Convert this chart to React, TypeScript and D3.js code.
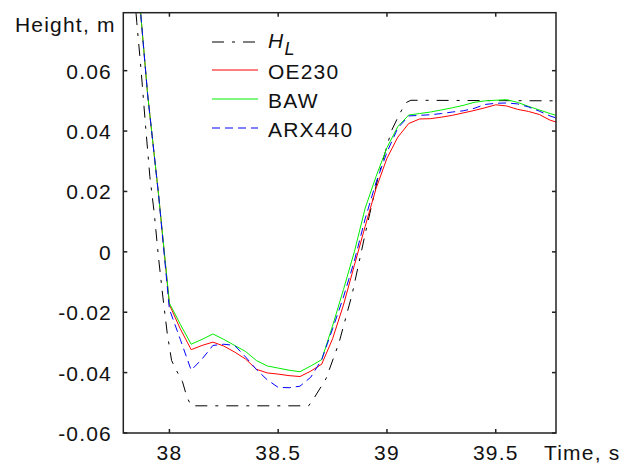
import React, { useEffect, useRef } from 'react';
import * as d3 from 'd3';

// time grid for the three model series (s)
const timeModel = [
  37.80, 37.85, 37.90, 37.95, 38.00, 38.05, 38.10, 38.15, 38.20, 38.25,
  38.30, 38.35, 38.40, 38.45, 38.50, 38.55, 38.60, 38.65, 38.70, 38.75,
  38.80, 38.85, 38.90, 38.95, 39.00, 39.05, 39.10, 39.15, 39.20, 39.25,
  39.30, 39.35, 39.40, 39.45, 39.50, 39.55, 39.60, 39.65, 39.70, 39.75, 39.80,
];

const oe230 = [
  0.130, 0.094, 0.052, 0.019, -0.0175, -0.0255, -0.0324, -0.031, -0.0299, -0.0312,
  -0.0332, -0.0355, -0.0389, -0.0401, -0.0405, -0.041, -0.0413, -0.0395, -0.0372, -0.0288,
  -0.0176, -0.0045, 0.0085, 0.021, 0.031, 0.038, 0.0425, 0.044, 0.0441, 0.0446,
  0.0452, 0.046, 0.0468, 0.0477, 0.0487, 0.0483, 0.0472, 0.0465, 0.0455, 0.0436, 0.0425,
];

const baw = [
  0.130, 0.094, 0.052, 0.019, -0.017, -0.024, -0.0306, -0.029, -0.0272, -0.029,
  -0.031, -0.033, -0.036, -0.0378, -0.0385, -0.0392, -0.0397, -0.0378, -0.0357, -0.0245,
  -0.0125, 0.0, 0.0145, 0.025, 0.0345, 0.0415, 0.0453, 0.0458, 0.0463, 0.047,
  0.0477, 0.0485, 0.0495, 0.050, 0.0502, 0.0504, 0.0495, 0.0482, 0.047, 0.0458, 0.0447,
];

const arx440 = [
  0.130, 0.094, 0.052, 0.019, -0.019, -0.029, -0.0392, -0.0355, -0.031, -0.0306,
  -0.031, -0.0348, -0.039, -0.0424, -0.0449, -0.045, -0.0445, -0.0415, -0.0357, -0.0255,
  -0.015, -0.003, 0.011, 0.023, 0.033, 0.041, 0.045, 0.0452, 0.0454, 0.0458,
  0.0463, 0.0467, 0.0475, 0.0488, 0.0492, 0.0493, 0.049, 0.048, 0.0466, 0.045, 0.0438,
];

// H_L reference (own time stamps)
const timeHL = [
  37.80, 37.85, 37.87, 37.89, 37.91, 37.93, 37.95, 37.97, 37.99, 38.01,
  38.03, 38.06, 38.08, 38.10, 38.64, 38.66, 38.72, 38.78, 38.84, 38.90,
  38.96, 39.02, 39.06, 39.09, 39.11, 39.80,
];
const heightHL = [
  0.120, 0.076, 0.060, 0.042, 0.025, 0.013, -0.002, -0.015, -0.027, -0.036,
  -0.039, -0.043, -0.048, -0.051, -0.051, -0.049, -0.042, -0.030, -0.014, 0.006,
  0.025, 0.040, 0.046, 0.0495, 0.0502, 0.050,
];

const xTicks = [38, 38.5, 39, 39.5];
const yTicks = [-0.06, -0.04, -0.02, 0, 0.02, 0.04, 0.06];

const series = [
  { name: 'OE230', values: oe230, color: '#ff0000', dash: null },
  { name: 'BAW', values: baw, color: '#00ee00', dash: null },
  { name: 'ARX440', values: arx440, color: '#0000ff', dash: '8,5' },
];

const App = () => {
  const svgRef = useRef(null);

  useEffect(() => {
    const svg = d3.select(svgRef.current);
    svg.selectAll('*').remove();

    const left = 123.3, right = 556, top = 12.7, bottom = 433;
    const font = 'Arial, "Liberation Sans", sans-serif';

    const x = d3.scaleLinear().domain([37.788, 39.777]).range([left, right]);
    const y = d3.scaleLinear().domain([-0.06, 0.0792]).range([bottom, top]);

    svg.append('defs').append('clipPath').attr('id', 'plotClip')
      .append('rect')
      .attr('x', left).attr('y', top)
      .attr('width', right - left).attr('height', bottom - top);

    const plot = svg.append('g').attr('clip-path', 'url(#plotClip)');

    const line = d3.line<[number, number]>()
      .x(d => x(d[0]))
      .y(d => y(d[1]));

    // H_L
    plot.append('path')
      .attr('d', line(timeHL.map((t, i) => [t, heightHL[i]])))
      .attr('fill', 'none')
      .attr('stroke', '#000')
      .attr('stroke-width', 1)
      .attr('stroke-dasharray', '12,8,3,8');

    series.forEach(s => {
      plot.append('path')
        .attr('d', line(timeModel.map((t, i) => [t, s.values[i]])))
        .attr('fill', 'none')
        .attr('stroke', s.color)
        .attr('stroke-width', 1)
        .attr('stroke-dasharray', s.dash);
    });

    // frame
    svg.append('rect')
      .attr('x', left).attr('y', top)
      .attr('width', right - left).attr('height', bottom - top)
      .attr('fill', 'none').attr('stroke', '#222').attr('stroke-width', 1.5);

    const tickLen = 4;
    const ticks = svg.append('g').attr('stroke', '#222').attr('stroke-width', 1.5);
    xTicks.forEach(t => {
      ticks.append('line').attr('x1', x(t)).attr('x2', x(t)).attr('y1', bottom).attr('y2', bottom - tickLen);
      ticks.append('line').attr('x1', x(t)).attr('x2', x(t)).attr('y1', top).attr('y2', top + tickLen);
    });
    yTicks.forEach(v => {
      ticks.append('line').attr('x1', left).attr('x2', left + tickLen).attr('y1', y(v)).attr('y2', y(v));
      ticks.append('line').attr('x1', right).attr('x2', right - tickLen).attr('y1', y(v)).attr('y2', y(v));
    });

    const text = svg.append('g')
      .style('font-family', font)
      .style('font-size', '21px')
      .style('letter-spacing', '1.2px')
      .attr('fill', '#111');

    xTicks.forEach(t => {
      text.append('text')
        .attr('x', x(t)).attr('y', 460)
        .attr('text-anchor', 'middle')
        .text(String(t));
    });
    yTicks.forEach(v => {
      text.append('text')
        .attr('x', 112).attr('y', y(v) + 8)
        .attr('text-anchor', 'end')
        .text(v === 0 ? '0' : String(+v.toFixed(2)));
    });

    text.append('text').attr('x', 15).attr('y', 32).text('Height, m');
    text.append('text').attr('x', 544).attr('y', 460).text('Time, s');

    // legend
    const lx1 = 212, lx2 = 258, tx = 268;
    const legendRows = [
      { y: 42, color: '#000', dash: '12,8,3,8' },
      { y: 70, color: series[0].color, dash: null },
      { y: 99, color: series[1].color, dash: null },
      { y: 128, color: series[2].color, dash: series[2].dash },
    ];
    legendRows.forEach(r => {
      svg.append('line')
        .attr('x1', lx1).attr('x2', lx2).attr('y1', r.y).attr('y2', r.y)
        .attr('stroke', r.color).attr('stroke-width', 1)
        .attr('stroke-dasharray', r.dash);
    });

    const hl = text.append('text').attr('x', tx).attr('y', 48);
    hl.append('tspan').style('font-style', 'italic').text('H');
    hl.append('tspan').style('font-style', 'italic').style('font-size', '18px')
      .attr('dy', 7).text('L');
    series.forEach((s, i) => {
      text.append('text')
        .attr('x', tx).attr('y', legendRows[i + 1].y + 8.5)
        .text(s.name);
    });
  }, []);

  return (
    <svg
      ref={svgRef}
      width={641}
      height={464}
      style={{ position: 'absolute', left: 0, top: 0, background: '#fff' }}
    />
  );
};

export default App;
